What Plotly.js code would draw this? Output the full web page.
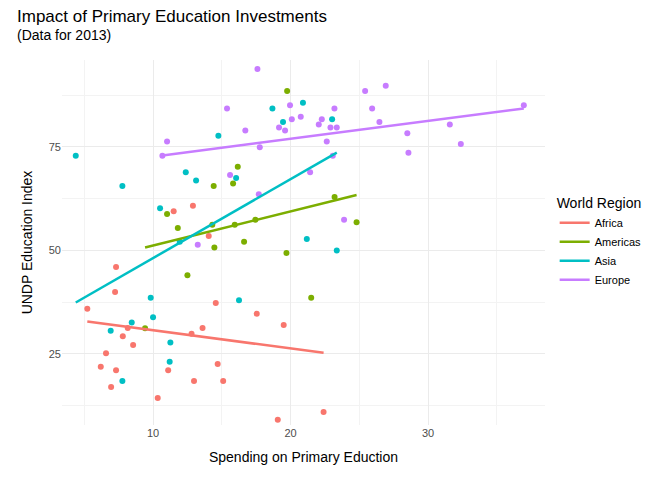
<!DOCTYPE html>
<html>
<head>
<meta charset="utf-8">
<script src="https://cdn.plot.ly/plotly-3.0.1.min.js"></script>
<style>body{margin:0}</style>
</head>
<body>
<div id="chart" style="width:672px;height:480px"></div>
<script>
// Data
var regions = ['Africa', 'Americas', 'Asia', 'Europe'];
var colors = ['#F8766D', '#7CAE00', '#00BFC4', '#C77CFF'];

var africaX = [5.22, 7.24, 7.31, 6.58, 6.20, 7.31, 6.95, 7.80, 8.16, 8.55, 11.5, 12.9, 14.05, 12.8, 13.6, 14.56, 11.1, 12.98, 14.7, 15.1, 10.34, 17.54, 19.5, 19.07, 22.4];
var africaY = [35.9, 40.0, 46.0, 25.2, 21.9, 21.1, 17.0, 29.3, 31.3, 27.2, 59.5, 60.8, 53.5, 29.9, 31.3, 37.3, 21.1, 18.5, 22.6, 18.5, 14.4, 34.7, 32.0, 9.1, 11.0];

var americasX = [19.75, 16.16, 15.82, 14.41, 11.02, 11.8, 14.31, 15.94, 17.44, 14.46, 16.62, 12.5, 9.42, 19.7, 21.5, 23.2, 24.8];
var americasY = [88.5, 70.2, 66.2, 65.6, 58.8, 55.4, 56.2, 56.2, 57.4, 50.7, 52.1, 44.0, 31.2, 49.4, 38.6, 62.9, 56.8];

var asiaX = [4.38, 7.77, 12.38, 13.13, 14.75, 16.04, 10.51, 18.68, 19.45, 20.9, 21.18, 9.83, 10.0, 8.45, 6.92, 11.26, 11.21, 7.77, 16.25, 11.94, 23.02, 23.36];
var asiaY = [72.9, 65.6, 68.9, 66.9, 77.7, 67.5, 60.2, 84.3, 81.0, 85.7, 52.8, 38.6, 33.9, 32.6, 30.6, 27.8, 23.1, 18.5, 38.0, 52.1, 81.7, 50.0];

var europeX = [17.59, 15.38, 19.96, 20.09, 20.74, 19.16, 19.6, 16.71, 11.02, 10.68, 17.76, 15.6, 21.42, 17.69, 13.25, 22.05, 22.27, 22.9, 23.36, 23.19, 22.63, 23.07, 23.89, 25.42, 26.92, 25.93, 26.46, 28.49, 28.57, 31.58, 32.38, 36.96];
var europeY = [93.8, 84.3, 85.1, 81.7, 82.3, 79.7, 79.0, 79.0, 76.3, 72.9, 74.9, 68.2, 68.9, 63.6, 51.4, 80.4, 81.7, 79.7, 79.7, 84.3, 76.3, 72.9, 57.4, 88.5, 89.8, 84.3, 81.0, 78.3, 73.6, 80.4, 75.7, 85.1];

var xs = [africaX, americasX, asiaX, europeX];
var ys = [africaY, americasY, asiaY, europeY];

// least squares line over the range of each group
function fit(x, y) {
    var n = x.length, mx = 0, my = 0;
    for (var i = 0; i < n; i++) { mx += x[i]; my += y[i]; }
    mx /= n; my /= n;
    var sxy = 0, sxx = 0;
    for (var i = 0; i < n; i++) { sxy += (x[i] - mx) * (y[i] - my); sxx += (x[i] - mx) * (x[i] - mx); }
    var b = sxy / sxx, a = my - b * mx;
    var lo = Math.min.apply(null, x), hi = Math.max.apply(null, x);
    return {x: [lo, hi], y: [a + b * lo, a + b * hi]};
}

var data = [];
for (var k = 0; k < regions.length; k++) {
    data.push({
        type: 'scatter', mode: 'markers', x: xs[k], y: ys[k],
        marker: {color: colors[k], size: 6}, showlegend: false, hoverinfo: 'x+y'
    });
}
for (var k = 0; k < regions.length; k++) {
    var f = fit(xs[k], ys[k]);
    data.push({
        type: 'scatter', mode: 'lines', x: f.x, y: f.y, name: regions[k],
        line: {color: colors[k], width: 2.5}
    });
}

var layout = {
    width: 672,
    height: 480,
    margin: {l: 62, r: 127, t: 60, b: 55},
    paper_bgcolor: 'white',
    plot_bgcolor: 'white',
    font: {family: 'Liberation Sans, Arial', color: '#000'},
    annotations: [
        {text: 'Impact of Primary Education Investments', xref: 'paper', yref: 'paper',
         x: -0.097, y: 1.088, xanchor: 'left', yanchor: 'bottom', showarrow: false, font: {size: 17}},
        {text: '(Data for 2013)', xref: 'paper', yref: 'paper',
         x: -0.097, y: 1.04, xanchor: 'left', yanchor: 'bottom', showarrow: false, font: {size: 14}}
    ],
    xaxis: {
        title: {text: 'Spending on Primary Eduction', font: {size: 14}, standoff: 14},
        range: [3.38, 38.5], tickvals: [10, 20, 30], ticks: '',
        tickfont: {size: 11, color: '#4d4d4d'},
        showgrid: true, gridcolor: '#ebebeb', gridwidth: 1.1, zeroline: false,
        minor: {tickvals: [5, 15, 25, 35], showgrid: true, gridcolor: '#f3f3f3', gridwidth: 0.6}
    },
    yaxis: {
        title: {text: 'UNDP Education Index', font: {size: 14}, standoff: 12},
        range: [7.85, 96.0], tickvals: [25, 50, 75], ticks: '',
        tickfont: {size: 11, color: '#4d4d4d'},
        showgrid: true, gridcolor: '#ebebeb', gridwidth: 1.1, zeroline: false,
        minor: {tickvals: [12.5, 37.5, 62.5, 87.5], showgrid: true, gridcolor: '#f3f3f3', gridwidth: 0.6}
    },
    legend: {
        x: 1.02, xanchor: 'left', y: 0.5, yanchor: 'middle',
        title: {text: 'World Region', font: {size: 14}},
        font: {size: 11}
    },
    showlegend: true
};

Plotly.newPlot('chart', data, layout, {displayModeBar: false});
</script>
</body>
</html>
